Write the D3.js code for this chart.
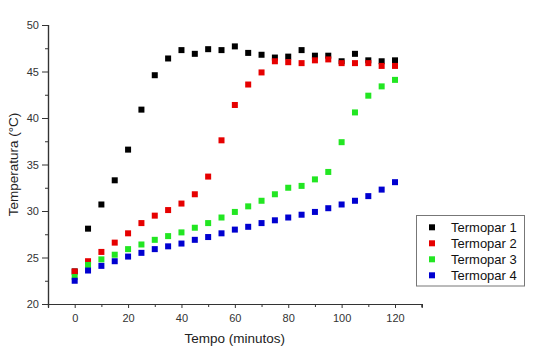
<!DOCTYPE html>
<html>
<head>
<meta charset="utf-8">
<script src="https://cdn.jsdelivr.net/npm/d3@7"></script>
<style>
  html, body { margin: 0; padding: 0; background: #fff; }
  svg { display: block; }
  text { font-family: Arial, "Liberation Sans", sans-serif; }
</style>
</head>
<body>
<script>
// ---- data ----
const tempo = [0,5,10,15,20,25,30,35,40,45,50,55,60,65,70,75,80,85,90,95,100,105,110,115,120];
const termopar1 = [23.5,28.1,30.7,33.3,36.6,40.9,44.6,46.4,47.3,46.9,47.4,47.3,47.7,47.0,46.8,46.5,46.6,47.3,46.7,46.7,46.1,46.9,46.2,46.1,46.2];
const termopar2 = [23.5,24.6,25.6,26.6,27.6,28.7,29.5,30.1,30.8,31.8,33.7,37.6,41.4,43.6,44.9,46.1,46.0,45.9,46.2,46.3,45.9,45.9,45.9,45.6,45.6];
const termopar3 = [22.9,24.2,24.8,25.3,25.9,26.4,26.9,27.3,27.7,28.2,28.7,29.3,29.9,30.5,31.1,31.8,32.5,32.7,33.4,34.2,37.4,40.6,42.4,43.4,44.1];
const termopar4 = [22.5,23.6,24.1,24.6,25.1,25.5,25.9,26.2,26.5,26.9,27.2,27.6,28.0,28.3,28.7,29.0,29.3,29.6,29.9,30.3,30.7,31.1,31.6,32.3,33.1];
const seriesNames = ["Termopar 1","Termopar 2","Termopar 3","Termopar 4"];
const seriesColors = ["#000000","#e60000","#22e622","#0000d0"];
const xTicks = [0,20,40,60,80,100,120];
const yTicks = [20,25,30,35,40,45,50];
const xLabel = "Tempo (minutos)";
const yLabel = "Temperatura (\u00B0C)";

(function () {
const W = 544, H = 355;
const mLeft = 48, mRight = 421.7, mTop = 25, mBottom = 304;

const svg = d3.select("body").append("svg").attr("width", W).attr("height", H);

const x = d3.scaleLinear().domain([-10, 130]).range([mLeft, mRight]);
const y = d3.scaleLinear().domain([20, 50]).range([mBottom, mTop]);

const axisColor = "#333";

const xMinor = d3.range(-10, 131, 10).filter(v => !xTicks.includes(v));
const yMinor = d3.range(20, 50.1, 2.5).filter(v => !yTicks.includes(v));

const gx = svg.append("g").attr("transform", `translate(0,${mBottom})`)
  .call(d3.axisBottom(x).tickValues(xMinor).tickSize(3).tickFormat(""));
const gx2 = svg.append("g").attr("transform", `translate(0,${mBottom})`)
  .call(d3.axisBottom(x).tickValues(xTicks).tickSize(4).tickPadding(6).tickFormat(d3.format("d")));
const gy = svg.append("g").attr("transform", `translate(${mLeft},0)`)
  .call(d3.axisLeft(y).tickValues(yMinor).tickSize(3).tickFormat(""));
const gy2 = svg.append("g").attr("transform", `translate(${mLeft},0)`)
  .call(d3.axisLeft(y).tickValues(yTicks).tickSize(6).tickPadding(3).tickFormat(d3.format("d")));

[gx, gx2, gy, gy2].forEach(g => {
  g.selectAll("path").attr("stroke", axisColor).attr("stroke-width", 1.2);
  g.selectAll("line").attr("stroke", axisColor).attr("stroke-width", 1);
  g.selectAll("text").attr("fill", "#333").style("font-size", "11px")
    .style("font-family", 'Arial, "Liberation Sans", sans-serif');
});

svg.append("text").attr("x", (mLeft + mRight) / 2).attr("y", 343)
  .attr("text-anchor", "middle").attr("fill", "#222").style("font-size", "13.5px").text(xLabel);
svg.append("text").attr("transform", `translate(18,${(mTop + mBottom) / 2}) rotate(-90)`)
  .attr("text-anchor", "middle").attr("fill", "#222").style("font-size", "13.5px").text(yLabel);

const allSeries = [termopar1, termopar2, termopar3, termopar4];
const s = 6;
allSeries.forEach((vals, i) => {
  svg.append("g").selectAll("rect").data(tempo.map((t, j) => [t, vals[j]]))
    .enter().append("rect")
    .attr("x", d => x(d[0]) - s / 2).attr("y", d => y(d[1]) - s / 2)
    .attr("width", s).attr("height", s).attr("fill", seriesColors[i]);
});

const lg = svg.append("g");
lg.append("rect").attr("x", 416.5).attr("y", 215.5).attr("width", 108).attr("height", 70.5)
  .attr("fill", "#fff").attr("stroke", "#777").attr("stroke-width", 1);
seriesNames.forEach((n, i) => {
  const cy = 227.3 + i * 16;
  lg.append("rect").attr("x", 432 - s / 2).attr("y", cy - s / 2).attr("width", s).attr("height", s)
    .attr("fill", seriesColors[i]);
  lg.append("text").attr("x", 451).attr("y", cy + 4.5).attr("fill", "#111")
    .style("font-size", "13px").text(n);
});
})();
</script>
</body>
</html>
